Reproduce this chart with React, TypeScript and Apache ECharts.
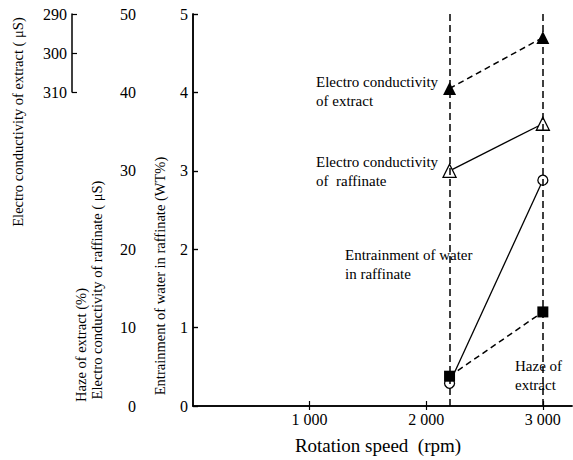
import React, { useEffect, useRef } from "react";
import * as echarts from "echarts";

const speeds = [2200, 3000];
const extractConductivity = [309, 296]; // μS (inverted 290–310 axis)
const raffinateConductivity = [30, 36]; // μS
const waterEntrainment = [0.29, 2.88]; // WT%
const hazeExtract = [3.8, 12]; // %
const speedTicks = [1000, 2000, 3000];
const markSpeeds = [2200, 3000];

const FONT = "Liberation Serif";
const BLACK = "#000";

const pts = (arr: number[]) => speeds.map((s, i) => [s, arr[i]]);

export default function App() {
  const ref = useRef<HTMLDivElement>(null);
  useEffect(() => {
    document.body.style.margin = "0";
    if (!ref.current) return;
    const chart = echarts.init(ref.current, undefined, { renderer: "svg" });
    const axisCommon = {
      axisLine: { show: true, lineStyle: { color: BLACK, width: 1.5 } },
      axisTick: { show: true, inside: true, length: 5, lineStyle: { color: BLACK, width: 1.2 } },
      axisLabel: { color: BLACK, fontFamily: FONT, fontSize: 16, margin: 5 },
      splitLine: { show: false },
    };
    const txt = (text: string, x: number, y: number, opts: any = {}) => ({
      type: "text",
      x,
      y,
      rotation: opts.rotation || 0,
      style: {
        text,
        fill: BLACK,
        fontFamily: FONT,
        fontSize: opts.size || 15,
        textAlign: opts.align || "left",
        textVerticalAlign: "middle",
      },
    });
    const R = Math.PI / 2;
    chart.setOption({
      animation: false,
      backgroundColor: "#fff",
      textStyle: { fontFamily: FONT },
      grid: [
        { left: 193, top: 14, width: 379, height: 392 },
        { left: 72, top: 14, width: 20, height: 78 },
      ],
      xAxis: [
        {
          type: "value",
          gridIndex: 0,
          min: 0,
          max: 3250,
          position: "bottom",
          ...axisCommon,
          axisTick: { ...axisCommon.axisTick, customValues: speedTicks },
          axisLabel: {
            ...axisCommon.axisLabel,
            margin: 5,
            customValues: speedTicks,
            formatter: (v: number) => `${Math.floor(v / 1000)} ${String(v % 1000).padStart(3, "0")}`,
          },
        },
        {
          type: "value",
          gridIndex: 0,
          min: 0,
          max: 3250,
          position: "top",
          ...axisCommon,
          axisTick: { ...axisCommon.axisTick, length: 4, customValues: speedTicks },
          axisLabel: { show: false },
        },
        { type: "value", gridIndex: 1, min: 0, max: 1, show: false },
      ],
      yAxis: [
        {
          type: "value",
          gridIndex: 0,
          min: 0,
          max: 5,
          interval: 1,
          position: "left",
          ...axisCommon,
        },
        {
          type: "value",
          gridIndex: 0,
          min: 0,
          max: 50,
          interval: 10,
          position: "left",
          offset: 52,
          ...axisCommon,
        },
        {
          type: "value",
          gridIndex: 0,
          min: 290,
          max: 390,
          inverse: true,
          show: false,
        },
        {
          type: "value",
          gridIndex: 1,
          min: 290,
          max: 310,
          interval: 10,
          inverse: true,
          position: "left",
          ...axisCommon,
        },
      ],
      series: [
        {
          name: "Electro conductivity of extract",
          type: "line",
          xAxisIndex: 0,
          yAxisIndex: 2,
          data: pts(extractConductivity),
          symbol: "triangle",
          symbolSize: 13,
          itemStyle: { color: BLACK },
          lineStyle: { color: BLACK, width: 1.5, type: [6, 4] },
        },
        {
          name: "Electro conductivity of raffinate",
          type: "line",
          xAxisIndex: 0,
          yAxisIndex: 1,
          data: pts(raffinateConductivity),
          symbol: "triangle",
          symbolSize: 13,
          itemStyle: { color: "#fff", borderColor: BLACK, borderWidth: 1.3 },
          lineStyle: { color: BLACK, width: 1.3 },
          z: 3,
        },
        {
          name: "Entrainment of water in raffinate",
          type: "line",
          xAxisIndex: 0,
          yAxisIndex: 0,
          data: pts(waterEntrainment),
          symbol: "circle",
          symbolSize: 10,
          itemStyle: { color: "#fff", borderColor: BLACK, borderWidth: 1.3 },
          lineStyle: { color: BLACK, width: 1.3 },
          z: 3,
          markLine: {
            silent: true,
            symbol: "none",
            label: { show: false },
            lineStyle: { color: BLACK, width: 1.5, type: [7, 4] },
            data: markSpeeds.map((s) => ({ xAxis: s })),
          },
        },
        {
          name: "Haze of extract",
          type: "line",
          xAxisIndex: 0,
          yAxisIndex: 1,
          data: pts(hazeExtract),
          symbol: "rect",
          symbolSize: 11,
          itemStyle: { color: BLACK },
          lineStyle: { color: BLACK, width: 1.5, type: [6, 4] },
          z: 4,
        },
      ],
      graphic: [
        txt("Electro conductivity of extract ( \u03bcS)", 18, 122, { rotation: R, align: "center", size: 14.5 }),
        txt("Haze of extract (%)", 81, 345, { rotation: R, align: "center", size: 14.5 }),
        txt("Electro conductivity of raffinate ( \u03bcS)", 97, 290, { rotation: R, align: "center", size: 14.5 }),
        txt("Entrainment of water in raffinate (WT%)", 160, 276, { rotation: R, align: "center", size: 14.5 }),
        txt("Rotation speed  (rpm)", 378, 445, { align: "center", size: 19 }),
        txt("Electro conductivity", 316, 82),
        txt("of extract", 316, 101),
        txt("Electro conductivity", 316, 162),
        txt("of  raffinate", 316, 181),
        txt("Entrainment of water", 345, 255),
        txt("in raffinate", 345, 274),
        txt("Haze of", 515, 366),
        txt("extract", 515, 385),
      ],
    });
    return () => chart.dispose();
  }, []);
  return <div ref={ref} style={{ width: 573, height: 460 }} />;
}
